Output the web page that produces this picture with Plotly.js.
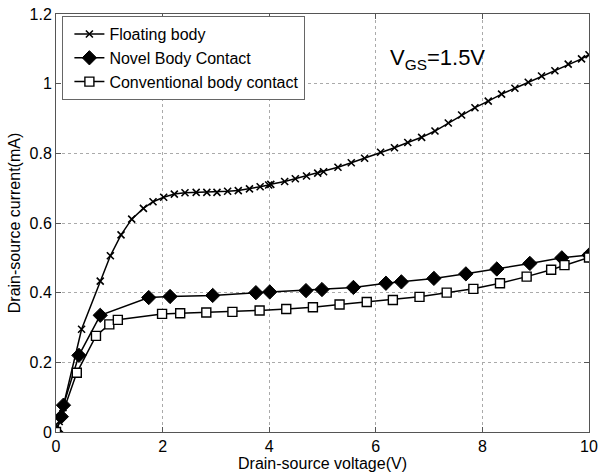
<!DOCTYPE html>
<html>
<head>
<meta charset="utf-8">
<script src="https://cdn.plot.ly/plotly-3.0.1.min.js"></script>
<style>html,body{margin:0;padding:0;background:#fff;}#chart{width:598px;height:472px;}</style>
</head>
<body>
<div id="chart"></div>
<script>
// Floating body
const floatX = [0,0.06,0.13,0.48,0.83,1.02,1.22,1.42,1.64,1.82,2.02,2.22,2.42,2.63,2.83,3.02,3.22,3.42,3.63,3.83,3.99,4.03,4.29,4.49,4.70,4.91,5.02,5.29,5.54,5.79,6.09,6.35,6.60,6.86,7.11,7.36,7.61,7.86,8.11,8.36,8.61,8.86,9.11,9.36,9.61,9.86,10];
const floatY = [0,0.03,0.07,0.295,0.433,0.506,0.566,0.611,0.642,0.661,0.674,0.683,0.687,0.688,0.688,0.688,0.691,0.693,0.698,0.704,0.709,0.711,0.719,0.727,0.735,0.743,0.747,0.760,0.773,0.786,0.803,0.816,0.831,0.846,0.864,0.887,0.910,0.931,0.950,0.970,0.987,1.004,1.022,1.037,1.056,1.071,1.083];
// Novel body contact
const novelX = [0,0.1,0.14,0.43,0.83,1.74,2.14,2.94,3.75,4.01,4.69,4.99,5.58,6.19,6.48,7.09,7.69,8.27,8.89,9.49,10];
const novelY = [0,0.044,0.077,0.22,0.335,0.386,0.389,0.392,0.400,0.402,0.406,0.409,0.415,0.427,0.431,0.441,0.454,0.468,0.484,0.500,0.508];
// Conventional body contact
const convX = [0,0.39,0.75,1.0,1.16,1.99,2.33,2.82,3.31,3.82,4.32,4.82,5.32,5.83,6.32,6.82,7.33,7.83,8.33,8.83,9.29,9.54,10];
const convY = [0,0.17,0.276,0.309,0.322,0.339,0.341,0.343,0.345,0.349,0.353,0.358,0.366,0.373,0.379,0.388,0.400,0.411,0.427,0.446,0.466,0.479,0.501];

const xTicks = [0,2,4,6,8,10];
const xTickText = ['0','2','4','6','8','10'];
const yTicks = [0,0.2,0.4,0.6,0.8,1,1.2];
const yTickText = ['0','0.2','0.4','0.6','0.8','1','1.2'];

const font = 'Liberation Sans, Arial, Helvetica, sans-serif';

const traces = [
  {x: floatX, y: floatY, name: 'Floating body', mode: 'lines+markers', type: 'scatter',
   line: {color: '#000', width: 1.5},
   marker: {symbol: 'x-thin-open', size: 7, color: '#000', line: {color: '#000', width: 1.6}}},
  {x: novelX, y: novelY, name: 'Novel Body Contact', mode: 'lines+markers', type: 'scatter',
   line: {color: '#000', width: 1.5},
   marker: {symbol: 'diamond', size: 11, color: '#000', line: {color: '#000', width: 1}}},
  {x: convX, y: convY, name: 'Conventional body contact', mode: 'lines+markers', type: 'scatter',
   line: {color: '#000', width: 1.5},
   marker: {symbol: 'square', size: 9, color: '#fff', line: {color: '#000', width: 1.4}}}
];

const layout = {
  width: 598, height: 472,
  margin: {l: 56, r: 9, t: 14, b: 40},
  paper_bgcolor: '#fff', plot_bgcolor: '#fff',
  font: {family: font, size: 16, color: '#000'},
  showlegend: true,
  legend: {x: 0.012, y: 0.995, xanchor: 'left', yanchor: 'top', indentation: 6,
           bgcolor: '#fff', bordercolor: '#666', borderwidth: 1,
           font: {family: font, size: 16, color: '#000'}, tracegroupgap: 0},
  xaxis: {range: [0, 10], tickvals: xTicks, ticktext: xTickText,
          showgrid: true, gridcolor: '#aaa', griddash: 'dot', gridwidth: 1,
          zeroline: false, showline: true, linecolor: '#555', linewidth: 1, mirror: 'ticks',
          ticks: 'inside', ticklen: 5, tickcolor: '#555',
          tickfont: {family: font, size: 16, color: '#000'},
          title: {text: 'Drain-source voltage(V)', font: {family: font, size: 16, color: '#000'}, standoff: 1}},
  yaxis: {range: [0, 1.2], tickvals: yTicks, ticktext: yTickText,
          showgrid: true, gridcolor: '#aaa', griddash: 'dot', gridwidth: 1,
          zeroline: false, showline: true, linecolor: '#555', linewidth: 1, mirror: 'ticks',
          ticks: 'inside', ticklen: 5, tickcolor: '#555',
          tickfont: {family: font, size: 16, color: '#000'},
          title: {text: 'Drain-source current(mA)', font: {family: font, size: 16, color: '#000'}, standoff: 4}},
  annotations: [{x: 0.623, y: 0.93, xref: 'paper', yref: 'paper', xanchor: 'left', yanchor: 'top',
                 showarrow: false,
                 text: 'V<sub>GS</sub>=1.5V', font: {family: font, size: 22, color: '#000'}}]
};

Plotly.newPlot('chart', traces, layout, {staticPlot: true, displayModeBar: false});
</script>
</body>
</html>
